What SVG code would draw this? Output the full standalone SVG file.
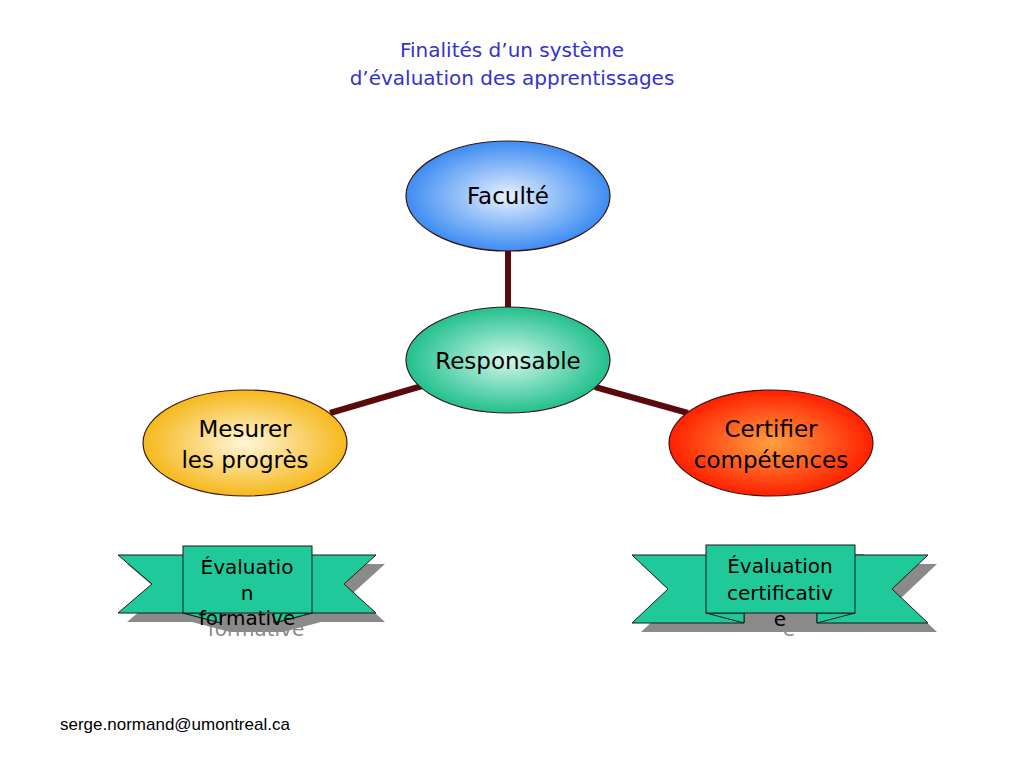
<svg xmlns="http://www.w3.org/2000/svg" width="1024" height="768" viewBox="0 0 1024 768">
<defs>
<radialGradient id="gBlue" cx="50%" cy="50%" r="50%"><stop offset="0" stop-color="#e6f0ff"/><stop offset="1" stop-color="#3d8cf2"/></radialGradient>
<radialGradient id="gTeal" cx="50%" cy="50%" r="50%"><stop offset="0" stop-color="#d2f7ea"/><stop offset="1" stop-color="#22c08e"/></radialGradient>
<radialGradient id="gYel" cx="50%" cy="50%" r="50%"><stop offset="0" stop-color="#fff6d8"/><stop offset="1" stop-color="#f6b81c"/></radialGradient>
<radialGradient id="gRed" cx="50%" cy="50%" r="50%"><stop offset="0" stop-color="#ffa040"/><stop offset="1" stop-color="#ff2000"/></radialGradient>
</defs>
<style>
.node{stroke:#3a1212;stroke-width:1.2}
.lbl{font-family:"Comic Sans MS","DejaVu Sans",sans-serif;font-size:23px;fill:#000;text-anchor:middle}
.ttl{font-family:"Comic Sans MS","DejaVu Sans",sans-serif;font-size:20px;fill:#3333cc;text-anchor:middle}
.ban{font-family:"Comic Sans MS","DejaVu Sans",sans-serif;font-size:20px;fill:#000;text-anchor:middle}
.shtxt{font-family:"Comic Sans MS","DejaVu Sans",sans-serif;font-size:20px;fill:#8a8a8a;text-anchor:middle}
.rib{fill:#1fc99a;stroke:#1a1a1a;stroke-width:1}
.sh{fill:#8a8a8a}
.conn{stroke:#5a0a0a;stroke-width:6;fill:none}
</style>
<rect width="1024" height="768" fill="#fff"/>
<g id="title">
<text class="ttl" x="512" y="57">Finalités d’un système</text>
<text class="ttl" x="512" y="85">d’évaluation des apprentissages</text>
</g>
<g id="connectors">
<line class="conn" x1="508" y1="250" x2="508" y2="308"/>
<line class="conn" x1="330" y1="413" x2="422" y2="386"/>
<line class="conn" x1="595" y1="387" x2="688" y2="413"/>
</g>
<g id="faculte">
<ellipse class="node" cx="508" cy="196" rx="102" ry="55" fill="url(#gBlue)"/>
<text class="lbl" x="508" y="204">Faculté</text>
</g>
<g id="responsable">
<ellipse class="node" cx="508" cy="360" rx="102" ry="53" fill="url(#gTeal)"/>
<text class="lbl" x="508" y="369">Responsable</text>
</g>
<g id="mesurer">
<ellipse class="node" cx="245" cy="443" rx="102" ry="53" fill="url(#gYel)"/>
<text class="lbl" x="245" y="437">Mesurer</text>
<text class="lbl" x="245" y="468">les progrès</text>
</g>
<g id="certifier">
<ellipse class="node" cx="771" cy="443" rx="102" ry="53" fill="url(#gRed)"/>
<text class="lbl" x="771" y="437">Certifier</text>
<text class="lbl" x="771" y="468">compétences</text>
</g>
<g id="banner-formative">
<g transform="translate(9,9)">
<polygon class="sh" points="118,555 221,555 221,546 312,546 312,555 376,555 344,584 376,613 312,613 274,623 221,623 183,613 118,613 152,584"/>
</g>
<text class="shtxt" x="256" y="636">formative</text>
<polygon class="rib" points="118,555 221,555 221,623 183,613 118,613 152,584"/>
<polygon class="rib" points="274,555 376,555 344,584 376,613 312,613 274,623"/>
<polygon class="rib" points="183,613 221,623 221,613"/>
<polygon class="rib" points="312,613 274,623 274,613"/>
<rect class="rib" x="183" y="546" width="129" height="67"/>
<text class="ban" x="247" y="574">Évaluatio</text>
<text class="ban" x="247" y="600">n</text>
<text class="ban" x="247" y="625">formative</text>
</g>
<g id="banner-certificative">
<g transform="translate(9,9)">
<polygon class="sh" points="632,555 744,555 744,545 855,545 855,555 928,555 892,589 928,623 632,623 668,589"/>
</g>
<text class="shtxt" x="789" y="636">e</text>
<polygon class="rib" points="632,555 744,555 744,623 632,623 668,589"/>
<polygon class="rib" points="817,555 928,555 892,589 928,623 817,623"/>
<polygon class="rib" points="706,613 744,623 744,613"/>
<polygon class="rib" points="855,613 817,623 817,613"/>
<rect class="rib" x="706" y="545" width="149" height="68"/>
<text class="ban" x="780" y="573">Évaluation</text>
<text class="ban" x="780" y="600">certificativ</text>
<text class="ban" x="780" y="626">e</text>
</g>
<g id="footer">
<text x="60" y="730" font-family="Liberation Sans, Arial, sans-serif" font-size="17" fill="#000">serge.normand@umontreal.ca</text>
</g>
</svg>
